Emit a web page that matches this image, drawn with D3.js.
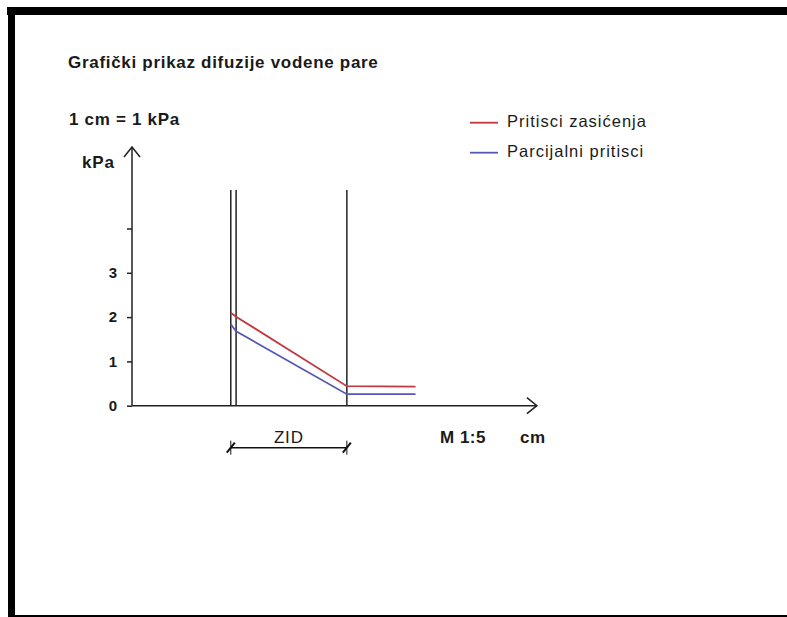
<!DOCTYPE html>
<html>
<head>
<meta charset="utf-8">
<script src="https://cdn.jsdelivr.net/npm/d3@7"></script>
<style>
html,body{margin:0;padding:0;background:#fff;}
svg{display:block;}
text{font-family:"Liberation Sans",Arial,sans-serif;fill:#1a1a1a;}
</style>
</head>
<body>
<svg id="chart" width="787" height="617"></svg>
<script>
// ---- data ----
const title = "Grafički prikaz difuzije vodene pare";
const scaleNote = "1 cm = 1 kPa";
const yUnit = "kPa";
const xUnit = "cm";
const scaleLabel = "M 1:5";
const wallLabel = "ZID";
const yTicks = [0, 1, 2, 3, 4];
const yTickLabels = ["0", "1", "2", "3", ""];
const seriesNames = ["Pritisci zasićenja", "Parcijalni pritisci"];
const seriesColors = ["#c0393f", "#5558b4"];
// x positions in cm (drawing), pressures in kPa
const saturationX = [2.23, 2.35, 4.85, 6.4];
const saturationP = [2.10, 2.01, 0.44, 0.43];
const partialX = [2.23, 2.35, 4.85, 6.4];
const partialP = [1.84, 1.68, 0.26, 0.26];
const wallLinesX = [2.23, 2.35, 4.85];
const wallLineTop = 4.87;
const wallStart = 2.23, wallEnd = 4.85;

const svg = d3.select("#chart");

// frame
svg.append("rect").attr("x", 7).attr("y", 7).attr("width", 790).attr("height", 8).attr("fill", "#000");
svg.append("rect").attr("x", 8).attr("y", 7).attr("width", 7).attr("height", 610).attr("fill", "#000");
svg.append("rect").attr("x", 8).attr("y", 615).attr("width", 780).attr("height", 2).attr("fill", "#000");

const x0 = 132, y0 = 405.7, unit = 44.3;
const x = d3.scaleLinear().domain([0, 9.14]).range([x0, x0 + 9.14 * unit]);
const y = d3.scaleLinear().domain([0, 5.84]).range([y0, y0 - 5.84 * unit]);

const axisColor = "#222";

// y axis ticks
const yAxis = d3.axisLeft(y).tickValues(yTicks).tickSize(5).tickSizeOuter(0).tickPadding(10)
  .tickFormat((d, i) => yTickLabels[i]);
const gy = svg.append("g").attr("transform", `translate(${x0},0)`).call(yAxis);
gy.select(".domain").remove();
gy.selectAll(".tick line").attr("stroke", axisColor).attr("stroke-width", 1.5);
gy.selectAll(".tick text").attr("font-size", 15).attr("font-weight", "bold")
  .attr("font-family", "Liberation Sans, Arial, sans-serif").attr("fill", "#1a1a1a");

// axis lines with arrows
svg.append("line").attr("x1", x(0)).attr("x2", x(0)).attr("y1", y(0)).attr("y2", y(5.84))
  .attr("stroke", axisColor).attr("stroke-width", 1.5);
svg.append("path").attr("d", `M${x(0)-8},${y(5.84)+10} L${x(0)},${y(5.84)} L${x(0)+8},${y(5.84)+10}`)
  .attr("fill", "none").attr("stroke", axisColor).attr("stroke-width", 1.5);
svg.append("line").attr("x1", x(0)).attr("x2", x(9.14)).attr("y1", y(0)).attr("y2", y(0))
  .attr("stroke", axisColor).attr("stroke-width", 1.5);
svg.append("path").attr("d", `M${x(9.14)-10},${y(0)-8} L${x(9.14)},${y(0)} L${x(9.14)-10},${y(0)+8}`)
  .attr("fill", "none").attr("stroke", axisColor).attr("stroke-width", 1.5);

// wall lines
svg.selectAll(".wall").data(wallLinesX).enter().append("line")
  .attr("x1", d => x(d)).attr("x2", d => x(d)).attr("y1", y(0)).attr("y2", y(wallLineTop))
  .attr("stroke", axisColor).attr("stroke-width", 1.5);

// series
const line = d3.line().x(d => x(d[0])).y(d => y(d[1]));
const series = [
  d3.zip(saturationX, saturationP),
  d3.zip(partialX, partialP)
];
series.forEach((s, i) => {
  svg.append("path").datum(s).attr("d", line).attr("fill", "none")
    .attr("stroke", seriesColors[i]).attr("stroke-width", 1.8);
});

// texts
const bold = (tx, x, yb, size, ls) => svg.append("text").attr("x", x).attr("y", yb)
  .attr("font-size", size).attr("font-weight", "bold").attr("letter-spacing", ls).text(tx);
bold(title, 68, 68, 17, 0.7);
bold(scaleNote, 69, 125, 17, 0.7);
bold(yUnit, 82, 168, 17, 0.9);

// dimension line ZID
const dimY = 447.7;
svg.append("line").attr("x1", x(wallStart)).attr("x2", x(wallEnd)).attr("y1", dimY).attr("y2", dimY)
  .attr("stroke", "#111").attr("stroke-width", 1.5);
[wallStart, wallEnd].forEach(w => {
  svg.append("line").attr("x1", x(w) - 4).attr("x2", x(w) + 4).attr("y1", dimY + 5).attr("y2", dimY - 5)
    .attr("stroke", "#111").attr("stroke-width", 2);
  svg.append("line").attr("x1", x(w)).attr("x2", x(w)).attr("y1", dimY - 7).attr("y2", dimY + 7)
    .attr("stroke", "#111").attr("stroke-width", 1);
});
svg.append("text").attr("x", (x(wallStart) + x(wallEnd)) / 2).attr("y", 443).attr("text-anchor", "middle")
  .attr("font-size", 17).attr("letter-spacing", 0.8).text(wallLabel);
bold(scaleLabel, 440, 443, 17, 0.5);
bold(xUnit, 520, 443, 17, 0.6);

// legend
seriesNames.forEach((n, i) => {
  const ly = 122.7 + i * 30;
  svg.append("line").attr("x1", 470).attr("x2", 498).attr("y1", ly).attr("y2", ly)
    .attr("stroke", seriesColors[i]).attr("stroke-width", 1.8);
  svg.append("text").attr("x", 507).attr("y", ly + 4.5).attr("font-size", 16.5)
    .attr("letter-spacing", 1).text(n);
});
</script>
</body>
</html>
